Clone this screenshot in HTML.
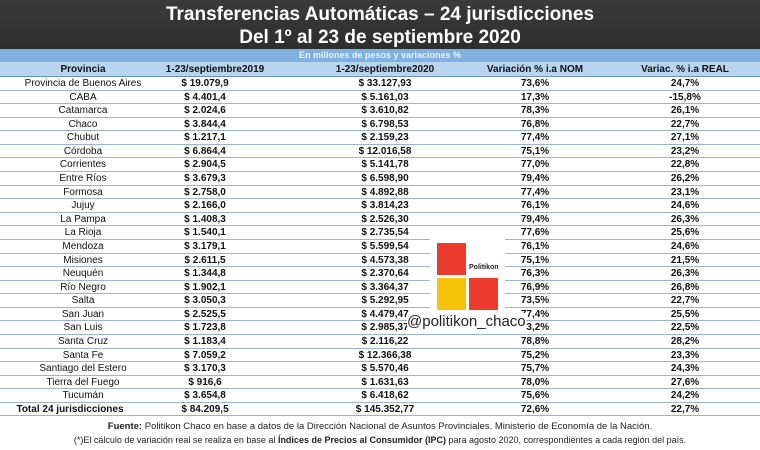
<!DOCTYPE html><html><head><meta charset="utf-8"><style>
body{margin:0;width:760px;height:450px;background:#fff;font-family:"Liberation Sans",sans-serif;position:relative;overflow:hidden}
.t{position:absolute;left:0;width:760px;height:49px;background:linear-gradient(#3a3a3a,#2e2e2e);color:#fff;font-weight:bold;font-size:19px;text-align:center;line-height:23px;padding-top:3px;box-sizing:border-box}
.b{position:absolute;top:49px;left:0;width:760px;height:13px;background:#7fb0df;color:#eaf3fb;font-size:9px;font-weight:bold;text-align:center;line-height:13px}
.h{position:absolute;top:62px;left:0;width:760px;height:14px;background:#b8d4ee;border-bottom:1px solid #6a8fc0}
.r{position:absolute;left:0;width:760px;height:13.58px;border-bottom:1px solid #9ab3d6;box-sizing:border-box}
.c{position:absolute;transform:translateX(-50%);white-space:nowrap;font-size:10px;top:1px;color:#111}
.h .c{font-weight:bold;top:2px}
.f{position:absolute;left:0;width:760px;text-align:center;font-size:9.5px;color:#222}
</style></head><body>
<div class="t">Transferencias Automáticas – 24 jurisdicciones<br>Del 1º al 23 de septiembre 2020</div>
<div class="b">En millones de pesos y variaciones %</div>
<div class="h"><span class="c" style="left:83px">Provincia</span><span class="c" style="left:215px">1-23/septiembre2019</span><span class="c" style="left:385px">1-23/septiembre2020</span><span class="c" style="left:535px">Variación % i.a NOM</span><span class="c" style="left:685px">Variac. % i.a REAL</span></div>
<div id="rows"></div>
<div style="position:absolute;left:430px;top:238px;width:75px;height:78px;background:#fff"></div>
<div style="position:absolute;left:437px;top:243px;width:29px;height:32px;background:#ee3b2f"></div>
<div style="position:absolute;left:437px;top:278px;width:29px;height:32px;background:#f6c20a"></div>
<div style="position:absolute;left:469px;top:278px;width:29px;height:32px;background:#ee3b2f"></div>
<div style="position:absolute;left:469px;top:264px;font-size:7px;font-weight:bold;color:#222">Politikon</div>
<div style="position:absolute;left:407px;top:313px;font-size:15px;color:#222;background:#fff;line-height:17px">@politikon_chaco</div>
<div class="f" style="top:421px"><b>Fuente:</b> Politikon Chaco en base a datos de la Dirección Nacional de Asuntos Provinciales. Ministerio de Economía de la Nación.</div>
<div class="f" style="top:435px;font-size:9px">(*)El cálculo de variación real se realiza en base al <b>Índices de Precios al Consumidor (IPC)</b> para agosto 2020, correspondientes a cada región del país.</div>
<script>
var d=[["Provincia de Buenos Aires","$ 19.079,9","$ 33.127,93","73,6%","24,7%"],["CABA","$ 4.401,4","$ 5.161,03","17,3%","-15,8%"],["Catamarca","$ 2.024,6","$ 3.610,82","78,3%","26,1%"],["Chaco","$ 3.844,4","$ 6.798,53","76,8%","22,7%"],["Chubut","$ 1.217,1","$ 2.159,23","77,4%","27,1%"],["Córdoba","$ 6.864,4","$ 12.016,58","75,1%","23,2%"],["Corrientes","$ 2.904,5","$ 5.141,78","77,0%","22,8%"],["Entre Ríos","$ 3.679,3","$ 6.598,90","79,4%","26,2%"],["Formosa","$ 2.758,0","$ 4.892,88","77,4%","23,1%"],["Jujuy","$ 2.166,0","$ 3.814,23","76,1%","24,6%"],["La Pampa","$ 1.408,3","$ 2.526,30","79,4%","26,3%"],["La Rioja","$ 1.540,1","$ 2.735,54","77,6%","25,6%"],["Mendoza","$ 3.179,1","$ 5.599,54","76,1%","24,6%"],["Misiones","$ 2.611,5","$ 4.573,38","75,1%","21,5%"],["Neuquén","$ 1.344,8","$ 2.370,64","76,3%","26,3%"],["Río Negro","$ 1.902,1","$ 3.364,37","76,9%","26,8%"],["Salta","$ 3.050,3","$ 5.292,95","73,5%","22,7%"],["San Juan","$ 2.525,5","$ 4.479,47","77,4%","25,5%"],["San Luis","$ 1.723,8","$ 2.985,37","73,2%","22,5%"],["Santa Cruz","$ 1.183,4","$ 2.116,22","78,8%","28,2%"],["Santa Fe","$ 7.059,2","$ 12.366,38","75,2%","23,3%"],["Santiago del Estero","$ 3.170,3","$ 5.570,46","75,7%","24,3%"],["Tierra del Fuego","$ 916,6","$ 1.631,63","78,0%","27,6%"],["Tucumán","$ 3.654,8","$ 6.418,62","75,6%","24,2%"],["Total 24 jurisdicciones","$ 84.209,5","$ 145.352,77","72,6%","22,7%"]];
var x=[83,205,385,535,685],h="";
d.forEach(function(r,i){var tot=i==24;h+='<div class="r" style="top:'+(77+i*13.58)+'px">';r.forEach(function(v,j){h+='<span class="c" style="left:'+(tot&&j==0?70:x[j])+'px;'+((j>0||tot)?'font-weight:bold':'')+'">'+v+'</span>'});h+='</div>'});
document.getElementById('rows').innerHTML=h;
</script>
</body></html>
